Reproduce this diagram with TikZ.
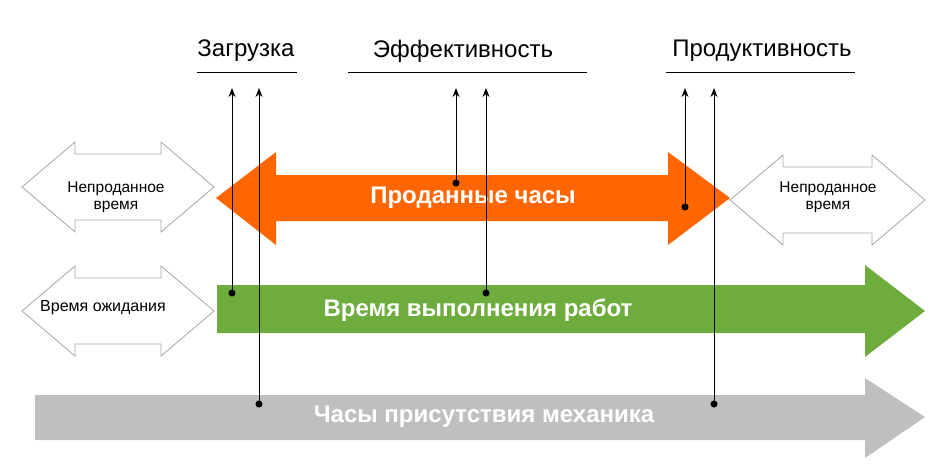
\documentclass[tikz,border=0pt]{standalone}
\usepackage{fontspec}
\setmainfont{Liberation Sans}
\usetikzlibrary{arrows.meta}
\definecolor{sold}{HTML}{FF6600}
\definecolor{work}{HTML}{6FAC3E}
\definecolor{present}{HTML}{BFBFBF}
\definecolor{outline}{HTML}{A6A6A6}
\tikzset{
  hollow/.style={draw=outline, fill=white, line width=0.8pt},
  small/.style={font=\fontsize{15.5}{17}\selectfont, align=center},
  big/.style={font=\bfseries\fontsize{24}{28}\selectfont, text=white},
  head/.style={font=\fontsize{24}{28}\selectfont},
  pin/.style={-{Stealth[length=9pt,width=7pt]}, line width=1pt},
  dot/.style={circle, fill=black, inner sep=2.5pt}
}
\begin{document}
\begin{tikzpicture}[x=1pt,y=-1pt]
\useasboundingbox (0,0) rectangle (937,474);
% hollow double arrows
\foreach \xa/\xb/\yc in {22/214/187, 730/925/200, 22/214/311}{
  \draw[hollow] (\xa,\yc) -- (\xa+53,\yc-45) -- (\xa+53,\yc-33) -- (\xb-53,\yc-33) -- (\xb-53,\yc-45)
    -- (\xb,\yc) -- (\xb-53,\yc+45) -- (\xb-53,\yc+33) -- (\xa+53,\yc+33) -- (\xa+53,\yc+45) -- cycle;
}
% sold hours
\fill[sold] (216,198) -- (276,152) -- (276,175) -- (668,175) -- (668,152) -- (730,198)
  -- (668,245) -- (668,221) -- (276,221) -- (276,245) -- cycle;
% work time
\fill[work] (217,285) -- (865,285) -- (865,265) -- (925,311) -- (865,357) -- (865,333) -- (217,333) -- cycle;
% presence
\fill[present] (35,395) -- (865,395) -- (865,378) -- (925,417) -- (865,458) -- (865,440) -- (35,440) -- cycle;
% texts
\node[small] (unsoldL) at (116,197) {Непроданное\\время};
\node[small] (unsoldR) at (828,197) {Непроданное\\время};
\node[small, font=\fontsize{16}{18}\selectfont] (wait) at (103,308) {Время ожидания};
\node[big] (soldt) at (473,198) {Проданные часы};
\node[big] (workt) at (478,310) {Время выполнения работ};
\node[big] (prest) at (484,417) {Часы присутствия механика};
% headers
\node[head] (load) at (246,51) {Загрузка};
\node[head] (eff) at (463,51) {Эффективность};
\node[head] (prod) at (762,51) {Продуктивность};
\draw (197,72) -- (297,72) (348,72) -- (587,72) (666,72) -- (855,72);
% pins
\foreach \n/\x/\y in {a/232/293, b/259/404, c/456/183, d/486/293, e/685/207, f/714/404}{
  \node[dot] (p\n) at (\x,\y) {};
  \coordinate (t\n) at (\x,88);
  \draw[pin] (p\n.center) -- (t\n);
}
\end{tikzpicture}
\end{document}
